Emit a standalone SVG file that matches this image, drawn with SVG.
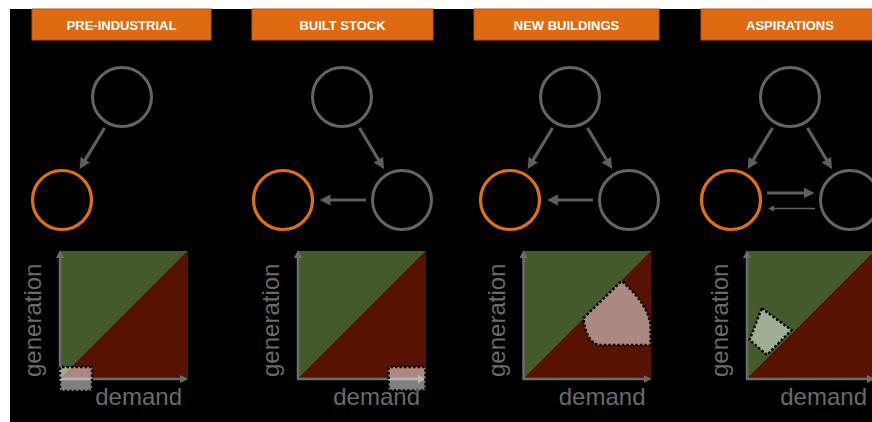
<svg xmlns="http://www.w3.org/2000/svg" width="872" height="422" viewBox="0 0 872 422">
<defs>
<style>
.hdr{fill:#de6a11;stroke:#b65510;stroke-width:1}
.hdrt{font-family:"Liberation Sans",Arial,sans-serif;font-weight:bold;font-size:13px;fill:#ffffff;text-anchor:middle}
.cg{fill:none;stroke:#646464;stroke-width:3}
.co{fill:none;stroke:#e0700f;stroke-width:3.2}
.arr{stroke:#5e5e5e;stroke-width:3.2;fill:none;marker-end:url(#ah)}
.thin{stroke:#5e5e5e;stroke-width:1.5;fill:none;marker-end:url(#ahs)}
.gr{fill:#445a2b}
.rd{fill:#571300}
.ax{stroke:#6c6c6c;stroke-width:2.5;fill:none;marker-end:url(#axh)}
.hl{fill:#ffffff;fill-opacity:0.5;stroke:#000;stroke-width:2.5;stroke-dasharray:2.5 2}
.lbl{font-family:"Liberation Sans",Arial,sans-serif;font-size:24px;fill:#6a6a6a}
</style>
<marker id="ah" viewBox="0 0 11 11" markerWidth="11" markerHeight="11" refX="2" refY="5.5" orient="auto" markerUnits="userSpaceOnUse"><path d="M0,0 L11,5.5 L0,11 z" fill="#5e5e5e"/></marker>
<marker id="ahs" viewBox="0 0 6 6" markerWidth="6" markerHeight="6" refX="1" refY="3" orient="auto" markerUnits="userSpaceOnUse"><path d="M0,0 L6,3 L0,6 z" fill="#5e5e5e"/></marker>
<marker id="axh" viewBox="0 0 8 8" markerWidth="8" markerHeight="8" refX="1" refY="4" orient="auto" markerUnits="userSpaceOnUse"><path d="M0,0 L8,4 L0,8 z" fill="#6c6c6c"/></marker>
</defs>
<rect x="0" y="0" width="872" height="422" fill="#ffffff"/>
<rect x="10" y="9" width="862" height="413" fill="#000000"/>

<g id="header-pre-industrial"><rect class="hdr" x="32" y="9" width="179" height="31"/><text class="hdrt" x="121.5" y="30">PRE-INDUSTRIAL</text></g>
<g id="header-built-stock"><rect class="hdr" x="252" y="9" width="181" height="31"/><text class="hdrt" x="342.5" y="30">BUILT STOCK</text></g>
<g id="header-new-buildings"><rect class="hdr" x="474" y="9" width="185" height="31"/><text class="hdrt" x="566.5" y="30">NEW BUILDINGS</text></g>
<g id="header-aspirations"><rect class="hdr" x="701" y="9" width="180" height="31"/><text class="hdrt" x="790" y="30">ASPIRATIONS</text></g>

<g id="p1-top"><circle class="cg" cx="122" cy="97" r="29.5"/></g>
<g id="p1-left"><circle class="co" cx="62" cy="200" r="29.5"/></g>

<g id="p2-top"><circle class="cg" cx="342" cy="97" r="29.5"/></g>
<g id="p2-left"><circle class="co" cx="283" cy="200" r="29.5"/></g>
<g id="p2-right"><circle class="cg" cx="402" cy="200" r="29.5"/></g>

<g id="p3-top"><circle class="cg" cx="570" cy="97" r="29.5"/></g>
<g id="p3-left"><circle class="co" cx="510" cy="200" r="29.5"/></g>
<g id="p3-right"><circle class="cg" cx="629" cy="200" r="29.5"/></g>

<g id="p4-top"><circle class="cg" cx="790" cy="97" r="29.5"/></g>
<g id="p4-left"><circle class="co" cx="731" cy="200" r="29.5"/></g>
<g id="p4-right"><circle class="cg" cx="850" cy="200" r="29.5"/></g>

<g id="connectors">
<line class="arr" x1="104.5" y1="128" x2="84.3" y2="161.4"/>
<line class="arr" x1="359.5" y1="128" x2="379.4" y2="161.3"/>
<line class="arr" x1="366" y1="200" x2="328.5" y2="200"/>
<line class="arr" x1="552.5" y1="128" x2="532.3" y2="161.4"/>
<line class="arr" x1="587.5" y1="128" x2="607.4" y2="161.3"/>
<line class="arr" x1="593" y1="200" x2="556" y2="200"/>
<line class="arr" x1="772.5" y1="128" x2="752.3" y2="161.4"/>
<line class="arr" x1="807.5" y1="128" x2="827.4" y2="161.3"/>
<line class="arr" x1="767" y1="193" x2="805.5" y2="193"/>
<line class="thin" x1="815" y1="208.5" x2="773" y2="208.5"/>
</g>

<g id="chart-pre-industrial" transform="translate(60,251)">
<polygon class="gr" points="0,128 0,0 128,0"/>
<polygon class="rd" points="0,128 128,0 128,128"/>
<line class="ax" x1="0" y1="128" x2="0" y2="6"/>
<line class="ax" x1="-1" y1="128" x2="121" y2="128"/>
<rect class="hl" x="0" y="116" width="32" height="24" rx="2"/>
<text class="lbl" transform="translate(-19,126) rotate(-90)">generation</text>
<text class="lbl" x="122" y="154" text-anchor="end">demand</text>
</g>

<g id="chart-built-stock" transform="translate(298,251)">
<polygon class="gr" points="0,128 0,0 128,0"/>
<polygon class="rd" points="0,128 128,0 128,128"/>
<line class="ax" x1="0" y1="128" x2="0" y2="6"/>
<line class="ax" x1="-1" y1="128" x2="121" y2="128"/>
<rect class="hl" x="90.5" y="116" width="37" height="23.5" rx="2"/>
<text class="lbl" transform="translate(-19,126) rotate(-90)">generation</text>
<text class="lbl" x="122" y="154" text-anchor="end">demand</text>
</g>

<g id="chart-new-buildings" transform="translate(523.5,251)">
<polygon class="gr" points="0,128 0,0 128,0"/>
<polygon class="rd" points="0,128 128,0 128,128"/>
<line class="ax" x1="0" y1="128" x2="0" y2="6"/>
<line class="ax" x1="-1" y1="128" x2="121" y2="128"/>
<path class="hl" d="M60,67 L98,30 Q124,52 127,74 L127,94 L75,94 Q62,90 60,67 Z"/>
<text class="lbl" transform="translate(-19,126) rotate(-90)">generation</text>
<text class="lbl" x="122" y="154" text-anchor="end">demand</text>
</g>

<g id="chart-aspirations" transform="translate(747,251)">
<polygon class="gr" points="0,128 0,0 128,0"/>
<polygon class="rd" points="0,128 128,0 128,128"/>
<line class="ax" x1="0" y1="128" x2="0" y2="6"/>
<line class="ax" x1="-1" y1="128" x2="121" y2="128"/>
<polygon class="hl" points="14.7,57.3 44.5,79 20,104 2.5,89"/>
<text class="lbl" transform="translate(-19,126) rotate(-90)">generation</text>
<text class="lbl" x="120" y="154" text-anchor="end">demand</text>
</g>
</svg>
